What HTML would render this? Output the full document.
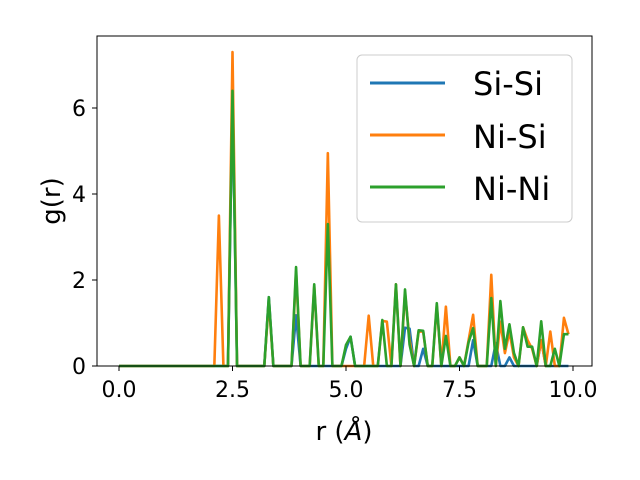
<!DOCTYPE html>
<html><head><meta charset="utf-8"><style>
html,body{margin:0;padding:0;background:#fff}
svg{display:block;font-family:"DejaVu Sans","Liberation Sans",sans-serif}
</style></head><body>
<svg id="chart" width="640" height="480" viewBox="0 0 640 480" xmlns="http://www.w3.org/2000/svg">
<rect width="640" height="480" fill="#fff"/>
<g id="series"></g>
<rect x="97" y="36" width="495" height="330" fill="none" stroke="#000" stroke-width="1"/>
<g id="xticks"></g>
<g id="yticks"></g>
<text x="60" y="201" font-size="26" text-anchor="middle" transform="rotate(-90 60 201)">g(r)</text>
<text x="344" y="440" font-size="26" text-anchor="middle">r (<tspan font-style="italic">Å</tspan>)</text>
<g>
<rect x="357" y="55" width="215" height="167" rx="5" fill="#fff" fill-opacity="0.8" stroke="#ccc"/>
<line x1="370" y1="83" x2="445" y2="83" stroke="#1f77b4" stroke-width="3"/>
<text x="473" y="95" font-size="32">Si-Si</text>
<line x1="370" y1="135" x2="445" y2="135" stroke="#ff7f0e" stroke-width="3"/>
<text x="473" y="148" font-size="32">Ni-Si</text>
<line x1="370" y1="187" x2="445" y2="187" stroke="#2ca02c" stroke-width="3"/>
<text x="473" y="200" font-size="32">Ni-Ni</text>
</g>
</svg>
<script>
const rValues = Array.from({length:100},(_,i)=>+(i*0.1).toFixed(1));
const siSi = [0,0,0,0,0,0,0,0,0,0, 0,0,0,0,0,0,0,0,0,0,
 0,0,0,0,0,6.3,0,0,0,0, 0,0,0,1.6,0,0,0,0,0,1.18,
 0,0,0,0,0,0,0,0,0,0, 0.4,0.68,0,0,0,0,0,0,0,0,
 0,0,0,0.89,0.87,0,0,0.4,0,0, 0,0,0,0,0,0,0,0,0.6,0,
 0,0,0,0.53,0,0,0.2,0,0,0, 0,0,0,0.6,0,0,0,0,0,0];
const niSi = [0,0,0,0,0,0,0,0,0,0, 0,0,0,0,0,0,0,0,0,0,
 0,0,3.5,0,0,7.3,0,0,0,0, 0,0,0,1.5,0,0,0,0,0,2.2,
 0,0,0,1.85,0,0,4.95,0,0,0, 0,0,0,0,0,1.17,0,0,1.05,1.03,
 0,1.9,0,1.7,0.6,0,0.8,0.8,0,0, 1.4,0,1.38,0,0,0.2,0,0.6,1.19,0,
 0,0,2.12,0,1.03,0.3,0.8,0.2,0,0.9, 0.6,0.4,0,0.6,0,0.8,0,0,1.12,0.74];
const niNi = [0,0,0,0,0,0,0,0,0,0, 0,0,0,0,0,0,0,0,0,0,
 0,0,0,0,0,6.4,0,0,0,0, 0,0,0,1.6,0,0,0,0,0,2.3,
 0,0,0,1.9,0,0,3.3,0,0,0, 0.49,0.68,0,0,0,0,0,0,1.07,0,
 0,1.9,0,1.78,0.5,0,0.83,0.82,0,0, 1.46,0,0.7,0,0,0.2,0,0.55,0.88,0,
 0,0,1.58,0,1.51,0.4,0.97,0.3,0,0.9, 0.45,0.45,0,1.04,0,0,0.4,0,0.74,0.74];
const xTicks = [0,2.5,5,7.5,10];
const xTickLabels = ["0.0","2.5","5.0","7.5","10.0"];
const yTicks = [0,2,4,6];
const yTickLabels = ["0","2","4","6"];

const xScale = v => 119 + v*45.4;
const yScale = v => 366 - v*43;
const NS = "http://www.w3.org/2000/svg";
const sg = document.getElementById('series');
function drawSeries(vals, color, name){
  const p = document.createElementNS(NS,'polyline');
  p.setAttribute('points', vals.map((v,i)=>xScale(rValues[i]).toFixed(2)+','+yScale(v).toFixed(2)).join(' '));
  p.setAttribute('fill','none');
  p.setAttribute('stroke',color);
  p.setAttribute('stroke-width','2.6');
  p.setAttribute('stroke-linejoin','round');
  
  
  sg.appendChild(p);
}
drawSeries(siSi,'#1f77b4','line-si-si');
drawSeries(niSi,'#ff7f0e','line-ni-si');
drawSeries(niNi,'#2ca02c','line-ni-ni');
const xg = document.getElementById('xticks');
xTicks.forEach((t,i)=>{
  const x = xScale(t);
  const l = document.createElementNS(NS,'line');
  l.setAttribute('x1',x);l.setAttribute('x2',x);l.setAttribute('y1',366);l.setAttribute('y2',371);
  l.setAttribute('stroke','#000');
  
  
  xg.appendChild(l);
  const tx = document.createElementNS(NS,'text');
  tx.setAttribute('x',x);tx.setAttribute('y',397);tx.setAttribute('font-size','22');tx.setAttribute('text-anchor','middle');
  tx.textContent = xTickLabels[i];
  
  
  xg.appendChild(tx);
});
const yg = document.getElementById('yticks');
yTicks.forEach((t,i)=>{
  const y = yScale(t);
  const l = document.createElementNS(NS,'line');
  l.setAttribute('x1',92);l.setAttribute('x2',97);l.setAttribute('y1',y);l.setAttribute('y2',y);
  l.setAttribute('stroke','#000');
  
  
  yg.appendChild(l);
  const tx = document.createElementNS(NS,'text');
  tx.setAttribute('x',86);tx.setAttribute('y',y+8);tx.setAttribute('font-size','22');tx.setAttribute('text-anchor','end');
  tx.textContent = yTickLabels[i];
  
  
  yg.appendChild(tx);
});
</script>
</body></html>
